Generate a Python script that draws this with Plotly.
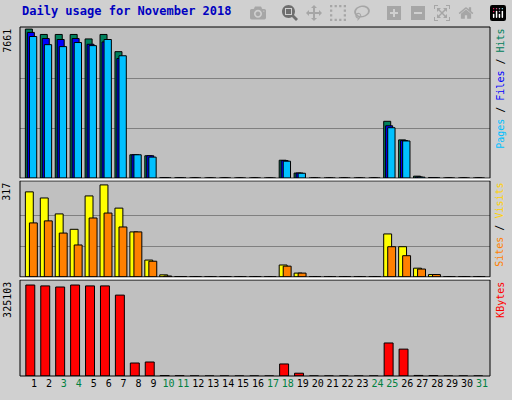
import plotly.graph_objects as go

days = list(range(1, 32))
hits   = [7661,7385,7385,7385,7155,7385,6500,1200,1150,20,15,0,0,0,0,0,0,920,260,0,0,0,0,0,2920,1965,100,30,0,0,0]
files  = [7490,7175,7125,7175,6880,7000,6150,1200,1150,15,10,0,0,0,0,0,0,900,260,0,0,0,0,0,2690,1930,60,20,0,0,0]
pages  = [7280,6860,6760,6970,6810,7125,6290,1200,1080,10,8,0,0,0,0,0,0,870,250,0,0,0,0,0,2590,1910,50,15,0,0,0]
visits = [293,272,217,164,279,317,237,155,58,7,1,0,0,0,0,0,0,41,13,0,0,0,0,0,148,104,30,8,0,0,0]
sites  = [186,193,151,110,203,220,172,155,54,3,1,0,0,0,0,0,0,37,13,0,0,0,0,0,104,73,27,8,0,0,0]
kbytes = [325103,322000,318000,325103,322000,322000,289000,46400,50000,1500,1000,0,0,0,0,0,0,43000,10000,0,0,0,0,0,118000,96000,2000,1500,0,0,0]
weekends = [3,4,10,11,17,18,24,25,31]

fig = go.Figure()
line = dict(color="black", width=1)
def bar(y, color, off, w, ya):
    fig.add_trace(go.Bar(x=days, y=y, marker=dict(color=color, line=line), offset=off, width=w, yaxis=ya, showlegend=False))

bar(hits, "#00805C", -0.58, 0.47, "y3")
bar(files, "#0000FF", -0.45, 0.47, "y3")
bar(pages, "#00C0FF", -0.31, 0.49, "y3")
bar(visits, "#FFFF00", -0.58, 0.53, "y2")
bar(sites, "#FF8000", -0.31, 0.53, "y2")
bar(kbytes, "#FF0000", -0.55, 0.6, "y")

ticktext = [f"<span style='color:#008040'>{d}</span>" if d in weekends else str(d) for d in days]
fig.update_layout(
    width=512, height=400, margin=dict(l=20, r=22, t=27, b=24),
    paper_bgcolor="#D0D0D0", plot_bgcolor="#C0C0C0", barmode="overlay",
    font=dict(family="DejaVu Sans Mono", size=10, color="black"),
    xaxis=dict(range=[0.06, 31.54], tickvals=days, ticktext=ticktext, showgrid=False, ticks="", zeroline=False, tickfont=dict(size=10)),
    yaxis=dict(domain=[0, 0.275], range=[0, 325103*96/91], showticklabels=False, showgrid=False, zeroline=False),
    yaxis2=dict(domain=[0.284, 0.559], range=[0, 317*96/92], tickvals=[317/3, 2*317/3], showticklabels=False, gridcolor="#808080", zeroline=False),
    yaxis3=dict(domain=[0.567, 1], range=[0, 7661*1.014], tickvals=[7661/3, 2*7661/3], showticklabels=False, gridcolor="#808080", zeroline=False),
)
shapes = []
for y0, y1 in [(0, 0.275), (0.284, 0.559), (0.567, 1)]:
    shapes.append(dict(type="rect", xref="paper", yref="paper", x0=0, x1=1, y0=y0, y1=y1, line=dict(color="black", width=1)))
shapes.append(dict(type="line", xref="paper", yref="paper", x0=0, x1=1, y0=0.2795, y1=0.2795, line=dict(color="white", width=2)))
shapes.append(dict(type="line", xref="paper", yref="paper", x0=0, x1=1, y0=0.563, y1=0.563, line=dict(color="white", width=2)))
fig.update_layout(shapes=shapes)

ann = [
    dict(text="<b>Daily usage for November 2018</b>", x=-0.0, y=1.045, xanchor="left", yanchor="middle", font=dict(color="#0000C0", size=12)),
    dict(text="7661", x=-0.012, y=1, xanchor="right", yanchor="top", textangle=-90),
    dict(text="317", x=-0.012, y=0.559, xanchor="right", yanchor="top", textangle=-90),
    dict(text="325103", x=-0.012, y=0.275, xanchor="right", yanchor="top", textangle=-90),
    dict(text="<span style='color:#00C0FF'>Pages</span> / <span style='color:#0000FF'>Files</span> / <span style='color:#00805C'>Hits</span>", x=1.005, y=1, xanchor="left", yanchor="top", textangle=-90),
    dict(text="<span style='color:#FF8000'>Sites</span> / <span style='color:#FFD000'>Visits</span>", x=1.005, y=0.559, xanchor="left", yanchor="top", textangle=-90),
    dict(text="<span style='color:#FF0000'>KBytes</span>", x=1.005, y=0.275, xanchor="left", yanchor="top", textangle=-90),
]
for a in ann:
    a.update(xref="paper", yref="paper", showarrow=False)
fig.update_layout(annotations=ann)
fig.write_html("out.html", post_script="document.body.style.margin='0';document.body.style.overflow='hidden';")
